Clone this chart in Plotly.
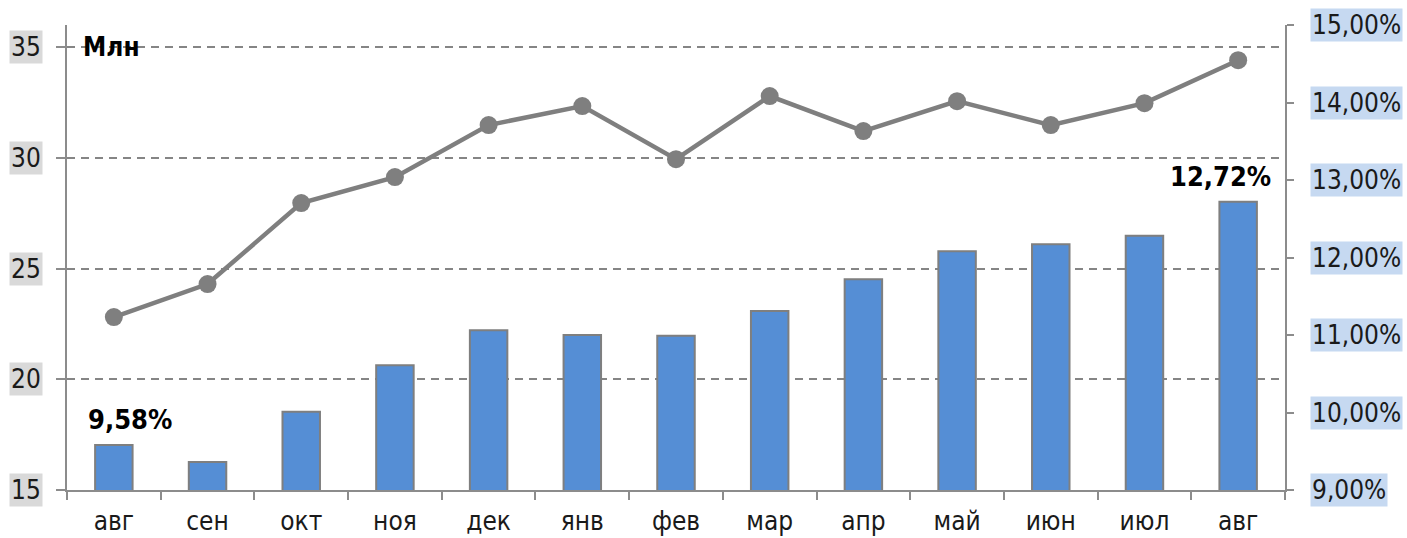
import plotly.graph_objects as go

# Monthly series: subscribers (millions, left axis) and share (%, right axis)
months = ["авг", "сен", "окт", "ноя", "дек", "янв", "фев", "мар", "апр", "май", "июн", "июл", "авг"]
subscribers_mln = [22.81, 24.30, 27.96, 29.13, 31.48, 32.34, 29.94, 32.79, 31.21, 32.56, 31.48, 32.47, 34.41]
share_pct = [9.58, 9.36, 10.01, 10.61, 11.06, 11.00, 10.99, 11.31, 11.72, 12.08, 12.17, 12.28, 12.72]

left_ticks = [15, 20, 25, 30, 35]
right_ticks = [9, 10, 11, 12, 13, 14, 15]

FONT = "'DejaVu Sans Condensed', 'DejaVu Sans', sans-serif"
GREY = "#7f7f7f"
x = list(range(len(months)))

fig = go.Figure()

fig.add_trace(go.Bar(
    x=x, y=share_pct, yaxis="y2", width=0.4,
    marker=dict(color="#558ed5", line=dict(color=GREY, width=2)),
    hoverinfo="y",
))

fig.add_trace(go.Scatter(
    x=x, y=subscribers_mln, yaxis="y", mode="lines+markers",
    line=dict(color=GREY, width=4.5),
    marker=dict(color=GREY, size=18),
))

annotations = []
# Left axis tick labels with grey background
for v in left_ticks:
    annotations.append(dict(
        x=0, xref="paper", y=v, yref="y", xanchor="right", yanchor="middle",
        xshift=-24, text=str(v), showarrow=False, bgcolor="#d9d9d9", borderpad=1,
        font=dict(family=FONT, size=26, color="#1a1a1a"),
    ))
# Right axis tick labels with light-blue background
for v in right_ticks:
    annotations.append(dict(
        x=1, xref="paper", y=v, yref="y2", xanchor="left", yanchor="middle",
        xshift=25, text=f"{v:.2f}%".replace(".", ","), showarrow=False,
        bgcolor="#c6d9f1", borderpad=1,
        font=dict(family=FONT, size=26, color="#1a1a1a"),
    ))
# Unit caption
annotations.append(dict(
    x=0, xref="paper", y=35, yref="y", xanchor="left", yanchor="middle",
    xshift=14, text="<b>Млн</b>", showarrow=False,
    font=dict(family=FONT, size=26, color="#000000"),
))
# Value labels on first and last bars
for i, xs in ((0, 16), (len(share_pct) - 1, -18)):
    annotations.append(dict(
        x=x[i], xref="x", y=share_pct[i], yref="y2", xanchor="center", yanchor="bottom",
        xshift=xs, yshift=8, text=f"<b>{share_pct[i]:.2f}%</b>".replace(".", ","),
        showarrow=False, font=dict(family=FONT, size=27, color="#000000"),
    ))

fig.update_layout(
    width=1407, height=538,
    margin=dict(l=67, r=122, t=25, b=48, autoexpand=False),
    paper_bgcolor="white", plot_bgcolor="white",
    showlegend=False,
    annotations=annotations,
    xaxis=dict(
        range=[-0.5, len(months) - 0.5], automargin=False,
        tickmode="array", tickvals=x, ticktext=months,
        ticks="", showgrid=False, zeroline=False,
        showline=True, linecolor="#8c8c8c", linewidth=2,
        tickfont=dict(family=FONT, size=26, color="#1a1a1a"),
        ticklabelstandoff=7,
        minor=dict(tickmode="array", tickvals=[i - 0.5 for i in range(len(months) + 1)],
                   ticks="outside", ticklen=8, tickcolor="#8c8c8c", tickwidth=2, showgrid=False),
    ),
    yaxis=dict(
        range=[15, 36], tickmode="array", tickvals=left_ticks, automargin=False,
        showticklabels=False, ticks="outside", ticklen=9, tickcolor="#8c8c8c", tickwidth=2,
        showgrid=True, gridcolor="#858585", gridwidth=1.5, griddash="8px,6px",
        zeroline=False, showline=True, linecolor="#8c8c8c", linewidth=2,
    ),
    yaxis2=dict(
        range=[9, 15], overlaying="y", side="right", tickmode="array", tickvals=right_ticks,
        automargin=False,
        showticklabels=False, ticks="outside", ticklen=7, tickcolor="#8c8c8c", tickwidth=2,
        showgrid=False, zeroline=False, showline=True, linecolor="#8c8c8c", linewidth=2,
    ),
)

fig.write_html("out.html")
